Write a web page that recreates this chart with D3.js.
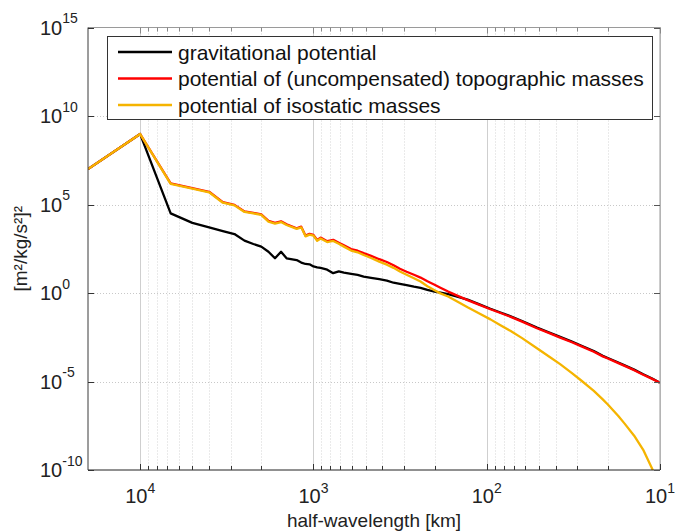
<!DOCTYPE html>
<html>
<head>
<meta charset="utf-8">
<script src="https://cdn.jsdelivr.net/npm/d3@7"></script>
<style>
  body { margin: 0; background: #fff; }
  text { font-family: "Liberation Sans", Arial, sans-serif; fill: #222; }
</style>
</head>
<body>
<div id="chart"></div>
<script>
// half-wavelength in km (x) and log10 of the potential in [m²/kg/s²]² (y)
const halfWavelength = [20000, 10000, 6667, 5000, 4000, 3333, 2857, 2500, 2222, 2000,
  1818, 1667, 1538, 1429, 1250, 1176, 1111, 1053, 1000, 952,
  909, 833, 769, 714, 667, 606, 556, 513, 465, 417,
  377, 345, 317, 290, 263, 241, 220, 200, 185, 167,
  148, 129, 111, 95.2, 83.3, 72.7, 62.5, 51.3, 43.5, 37.7,
  32.5, 28.6, 24.1, 21.4, 20, 17.4, 16, 14.1, 12.5, 11.1, 10];

const gravLog = [7.0, 8.98, 4.50, 3.96, 3.71, 3.50, 3.33, 2.96, 2.77, 2.62,
  2.33, 1.96, 2.33, 1.96, 1.86, 1.72, 1.64, 1.62, 1.50, 1.45,
  1.42, 1.32, 1.12, 1.22, 1.15, 1.08, 1.02, 0.93, 0.86, 0.78,
  0.70, 0.58, 0.52, 0.45, 0.36, 0.29, 0.18, 0.08, 0.02, -0.07,
  -0.20, -0.37, -0.63, -0.89, -1.10, -1.32, -1.58, -1.95, -2.24, -2.48,
  -2.73, -2.97, -3.28, -3.55, -3.67, -3.93, -4.09, -4.33, -4.59, -4.83, -5.07];

const topoLog = [7.0, 8.98, 6.19, 5.93, 5.72, 5.13, 4.98, 4.61, 4.53, 4.44,
  4.07, 3.96, 4.05, 3.88, 3.66, 3.75, 3.24, 3.34, 3.28, 3.00,
  3.13, 2.93, 3.00, 2.84, 2.69, 2.48, 2.39, 2.25, 2.10, 1.91,
  1.75, 1.57, 1.37, 1.20, 1.03, 0.87, 0.66, 0.47, 0.30, 0.08,
  -0.15, -0.40, -0.66, -0.92, -1.13, -1.35, -1.62, -1.99, -2.27, -2.52,
  -2.77, -3.00, -3.32, -3.58, -3.70, -3.96, -4.12, -4.36, -4.62, -4.85, -5.07];

const isoLog = [7.0, 8.98, 6.16, 5.90, 5.69, 5.10, 4.95, 4.58, 4.50, 4.41,
  4.03, 3.92, 4.01, 3.84, 3.62, 3.71, 3.20, 3.30, 3.24, 2.95,
  3.08, 2.88, 2.94, 2.78, 2.62, 2.40, 2.30, 2.15, 1.98, 1.77,
  1.60, 1.42, 1.22, 1.03, 0.83, 0.65, 0.38, 0.15, -0.02, -0.20,
  -0.48, -0.81, -1.15, -1.49, -1.82, -2.15, -2.55, -3.12, -3.60, -4.02,
  -4.50, -4.93, -5.53, -6.01, -6.30, -6.95, -7.38, -8.06, -8.86, -9.93, -11.1];

const seriesNames = ["gravitational potential",
  "potential of (uncompensated) topographic masses",
  "potential of isostatic masses"];
const seriesColors = ["#000000", "#ff0000", "#f5b400"];

const xTickExps = [4, 3, 2, 1];
const yTickExps = [15, 10, 5, 0, -5, -10];

const chartWidth = 676, chartHeight = 532;
const plotLeft = 88, plotRight = 660, plotTop = 27.5, plotBottom = 470;

const svg = d3.select("#chart").append("svg")
  .attr("width", chartWidth)
  .attr("height", chartHeight);

const x = d3.scaleLog().domain([20000, 10]).range([plotLeft, plotRight]);
const y = d3.scaleLog().domain([1e-10, 1e15]).range([plotBottom, plotTop]);

// x grid: every 1..9 x 10^k between 10 and 10^4
const xMinor = [];
for (let k = 1; k <= 3; k++) {
  for (let m = 1; m <= 9; m++) xMinor.push(m * Math.pow(10, k));
}
xMinor.push(10000);
const xMajor = xTickExps.map((e) => Math.pow(10, e));

const grid = svg.append("g");
grid.selectAll(".xg")
  .data(xMinor)
  .enter()
  .append("line")
  .attr("x1", (d) => Math.round(x(d)) + 0.5)
  .attr("x2", (d) => Math.round(x(d)) + 0.5)
  .attr("y1", plotTop)
  .attr("y2", plotBottom)
  .style("stroke", (d) => (xMajor.includes(d) ? "#cfcfcf" : "#d4d4d4"))
  .style("stroke-dasharray", (d) => (xMajor.includes(d) ? null : "1,2"))
  .style("stroke-width", 1);

grid.selectAll(".yg")
  .data(yTickExps.slice(1, -1))
  .enter()
  .append("line")
  .attr("x1", plotLeft)
  .attr("x2", plotRight)
  .attr("y1", (d) => Math.round(y(Math.pow(10, d))) + 0.5)
  .attr("y2", (d) => Math.round(y(Math.pow(10, d))) + 0.5)
  .style("stroke", "#c8c8c8")
  .style("stroke-dasharray", "1,2");

// curves
svg.append("clipPath")
  .attr("id", "plot-clip")
  .append("rect")
  .attr("x", plotLeft)
  .attr("y", plotTop)
  .attr("width", plotRight - plotLeft)
  .attr("height", plotBottom - plotTop);

const line = d3.line()
  .x((d) => x(d[0]))
  .y((d) => y(d[1]));

[gravLog, topoLog, isoLog].forEach((vals, i) => {
  const pts = halfWavelength.map((h, j) => [h, Math.pow(10, vals[j])]);
  svg.append("path")
    .attr("clip-path", "url(#plot-clip)")
    .attr("d", line(pts))
    .style("fill", "none")
    .style("stroke", seriesColors[i])
    .style("stroke-width", 2.3)
    .style("stroke-linejoin", "round");
});

// axes box
const box = svg.append("g");
box.append("line").attr("x1", plotLeft).attr("x2", plotRight).attr("y1", plotTop).attr("y2", plotTop)
  .style("stroke", "#9a9a9a");
box.append("line").attr("x1", plotRight).attr("x2", plotRight).attr("y1", plotTop).attr("y2", plotBottom)
  .style("stroke", "#9a9a9a");
box.append("line").attr("x1", plotLeft).attr("x2", plotLeft).attr("y1", plotTop).attr("y2", plotBottom)
  .style("stroke", "#3a3a3a");
box.append("line").attr("x1", plotLeft).attr("x2", plotRight).attr("y1", plotBottom).attr("y2", plotBottom)
  .style("stroke", "#222");

// x ticks (inside, bottom and top)
xMinor.forEach((d) => {
  const len = xMajor.includes(d) ? 6 : 4;
  const px = Math.round(x(d)) + 0.5;
  box.append("line").attr("x1", px).attr("x2", px).attr("y1", plotBottom).attr("y2", plotBottom - len)
    .style("stroke", "#333");
  box.append("line").attr("x1", px).attr("x2", px).attr("y1", plotTop).attr("y2", plotTop + len)
    .style("stroke", "#888");
});

// y ticks
yTickExps.forEach((e) => {
  const py = Math.round(y(Math.pow(10, e))) + 0.5;
  box.append("line").attr("x1", plotLeft).attr("x2", plotLeft + 6).attr("y1", py).attr("y2", py)
    .style("stroke", "#333");
  box.append("line").attr("x1", plotRight).attr("x2", plotRight - 6).attr("y1", py).attr("y2", py)
    .style("stroke", "#555");
});

// tick labels
xTickExps.forEach((e) => {
  const t = svg.append("text")
    .attr("x", x(Math.pow(10, e)))
    .attr("y", 503)
    .attr("text-anchor", "middle")
    .style("font-size", "20px");
  t.append("tspan").text("10");
  t.append("tspan").attr("dy", -10.5).style("font-size", "14px").text(e);
});

yTickExps.forEach((e) => {
  const t = svg.append("text")
    .attr("x", 40)
    .attr("y", y(Math.pow(10, e)) + 7)
    .attr("text-anchor", "start")
    .style("font-size", "20px");
  t.append("tspan").text("10");
  t.append("tspan").attr("dy", -11.5).style("font-size", "14px").text(e);
});

// axis titles
svg.append("text")
  .attr("x", (plotLeft + plotRight) / 2)
  .attr("y", 527)
  .attr("text-anchor", "middle")
  .style("font-size", "19px")
  .text("half-wavelength [km]");

svg.append("text")
  .attr("transform", `translate(27, ${(plotTop + plotBottom) / 2}) rotate(-90)`)
  .attr("text-anchor", "middle")
  .style("font-size", "19px")
  .text("[m²/kg/s²]²");

// legend
const legend = svg.append("g");
legend.append("rect")
  .attr("x", 107.5)
  .attr("y", 36.5)
  .attr("width", 545)
  .attr("height", 83)
  .style("fill", "#fff")
  .style("stroke", "#333");

seriesNames.forEach((name, i) => {
  const ly = 52 + i * 26.5;
  legend.append("line")
    .attr("x1", 118)
    .attr("x2", 172)
    .attr("y1", ly)
    .attr("y2", ly)
    .style("stroke", seriesColors[i])
    .style("stroke-width", 2.3);
  legend.append("text")
    .attr("x", 178)
    .attr("y", ly + 7.5)
    .style("font-size", "21px")
    .style("fill", "#111")
    .text(name);
});
</script>
</body>
</html>
